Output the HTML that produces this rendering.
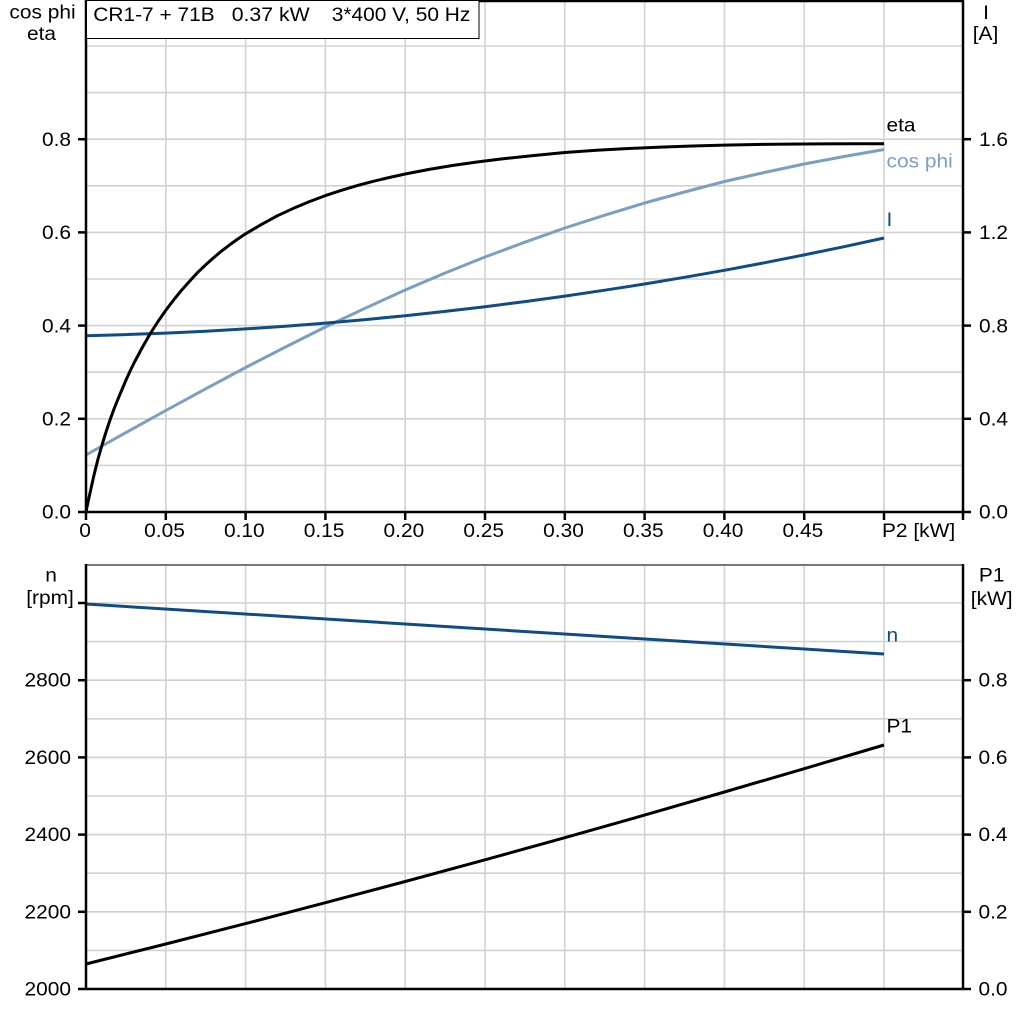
<!DOCTYPE html>
<html>
<head>
<meta charset="utf-8">
<style>
  html,body{margin:0;padding:0;background:#fff;}
  svg{display:block;}
  text{font-family:"Liberation Sans",Arial,sans-serif;font-size:19px;fill:#000;}
</style>
</head>
<body>
<svg width="1024" height="1024" viewBox="0 0 1024 1024" xmlns="http://www.w3.org/2000/svg">
  <rect x="0" y="0" width="1024" height="1024" fill="#fff"/>

  <!-- ===== TOP CHART GRID ===== -->
  <g stroke="#d2d2d2" stroke-width="1.6" fill="none">
    <line x1="165.8" y1="0" x2="165.8" y2="512"/>
    <line x1="245.6" y1="0" x2="245.6" y2="512"/>
    <line x1="325.4" y1="0" x2="325.4" y2="512"/>
    <line x1="405.2" y1="0" x2="405.2" y2="512"/>
    <line x1="485" y1="0" x2="485" y2="512"/>
    <line x1="564.8" y1="0" x2="564.8" y2="512"/>
    <line x1="644.6" y1="0" x2="644.6" y2="512"/>
    <line x1="724.4" y1="0" x2="724.4" y2="512"/>
    <line x1="804.2" y1="0" x2="804.2" y2="512"/>
    <line x1="884" y1="0" x2="884" y2="512"/>
    <line x1="86" y1="465.4" x2="963" y2="465.4"/>
    <line x1="86" y1="418.8" x2="963" y2="418.8"/>
    <line x1="86" y1="372.2" x2="963" y2="372.2"/>
    <line x1="86" y1="325.6" x2="963" y2="325.6"/>
    <line x1="86" y1="279" x2="963" y2="279"/>
    <line x1="86" y1="232.4" x2="963" y2="232.4"/>
    <line x1="86" y1="185.8" x2="963" y2="185.8"/>
    <line x1="86" y1="139.2" x2="963" y2="139.2"/>
    <line x1="86" y1="92.6" x2="963" y2="92.6"/>
    <line x1="86" y1="46" x2="963" y2="46"/>
  </g>

  <!-- ===== BOTTOM CHART GRID ===== -->
  <g stroke="#d2d2d2" stroke-width="1.6" fill="none">
    <line x1="165.8" y1="565" x2="165.8" y2="989"/>
    <line x1="245.6" y1="565" x2="245.6" y2="989"/>
    <line x1="325.4" y1="565" x2="325.4" y2="989"/>
    <line x1="405.2" y1="565" x2="405.2" y2="989"/>
    <line x1="485" y1="565" x2="485" y2="989"/>
    <line x1="564.8" y1="565" x2="564.8" y2="989"/>
    <line x1="644.6" y1="565" x2="644.6" y2="989"/>
    <line x1="724.4" y1="565" x2="724.4" y2="989"/>
    <line x1="804.2" y1="565" x2="804.2" y2="989"/>
    <line x1="884" y1="565" x2="884" y2="989"/>
    <line x1="86" y1="950.4" x2="963" y2="950.4"/>
    <line x1="86" y1="911.8" x2="963" y2="911.8"/>
    <line x1="86" y1="873.2" x2="963" y2="873.2"/>
    <line x1="86" y1="834.6" x2="963" y2="834.6"/>
    <line x1="86" y1="796" x2="963" y2="796"/>
    <line x1="86" y1="757.4" x2="963" y2="757.4"/>
    <line x1="86" y1="718.8" x2="963" y2="718.8"/>
    <line x1="86" y1="680.2" x2="963" y2="680.2"/>
    <line x1="86" y1="641.6" x2="963" y2="641.6"/>
    <line x1="86" y1="603" x2="963" y2="603"/>
  </g>

  <!-- ===== TOP CHART CURVES ===== -->
  <g fill="none" stroke-width="3" stroke-linejoin="round" stroke-linecap="butt">
    <polyline stroke="#7a9fc2" points="86,455 125.9,432.6 165.8,410.5 205.7,388.8 245.6,367.5 285.5,347 325.4,327 365.3,308.2 405.2,290 445.1,273 485,257 524.9,242.2 564.8,228 604.7,215.2 644.6,203 684.5,192 724.4,181.5 764.3,172.5 804.2,164 844.1,156.5 884,149.5"/>
    <polyline stroke="#0f4c85" points="86,335.7 125.9,334.6 165.8,333.1 205.7,331.2 245.6,328.9 285.5,326.2 325.4,323.1 365.3,319.6 405.2,315.7 445.1,311.4 485,306.7 524.9,301.6 564.8,296.1 604.7,290.2 644.6,284 684.5,277.3 724.4,270.3 764.3,262.8 804.2,254.9 844.1,246.7 884,238"/>
    <polyline stroke="#000" points="86,512 88,502 90,493 92,484 94,475 96,467 98,459 100,452 102,445 106,432 110,420 114,409 118,399 122,389.5 126,380 130,371.3 134,363 142,348 150,334 158,321.5 166,310 174,299.5 182,289.7 190,280.7 197.7,272.4 205.7,264.8 213.7,257.6 221.6,251 229.6,244.9 237.6,239.1 245.6,233.8 261.5,224.4 277.5,215.7 293.5,208.3 309.4,201.6 325.4,195.6 341.4,190.3 357.3,185.6 373.3,181.3 389.3,177.5 405.2,174 429.2,169.4 453.1,165.4 477.1,162 501,159 532.9,155.6 564.8,152.5 596.7,150.3 628.6,148.5 660.6,147.1 692.5,146 724.4,145.1 756.3,144.5 788.2,144.1 820.2,143.9 852.1,143.8 884,143.8"/>
  </g>

  <!-- ===== BOTTOM CHART CURVES ===== -->
  <g fill="none" stroke-width="3" stroke-linejoin="round">
    <polyline stroke="#0f4c85" points="86,604 884,654"/>
    <polyline stroke="#000" points="86,964 165.8,944 245.6,923.6 325.4,902.7 405.2,881.5 485,859.8 564.8,837.7 644.6,815.1 724.4,792 804.2,768.7 884,745"/>
  </g>

  <!-- ===== AXES TOP ===== -->
  <g stroke="#000" stroke-width="2.5" fill="none">
    <line x1="86" y1="0" x2="86" y2="520"/>
    <line x1="963" y1="0" x2="963" y2="520"/>
    <line x1="86" y1="1" x2="963" y2="1"/>
    <line x1="78" y1="512" x2="971" y2="512"/>
    <line x1="78" y1="418.8" x2="86" y2="418.8"/>
    <line x1="78" y1="325.6" x2="86" y2="325.6"/>
    <line x1="78" y1="232.4" x2="86" y2="232.4"/>
    <line x1="78" y1="139.2" x2="86" y2="139.2"/>
    <line x1="963" y1="418.8" x2="971" y2="418.8"/>
    <line x1="963" y1="325.6" x2="971" y2="325.6"/>
    <line x1="963" y1="232.4" x2="971" y2="232.4"/>
    <line x1="963" y1="139.2" x2="971" y2="139.2"/>
    <line x1="165.8" y1="512" x2="165.8" y2="520"/>
    <line x1="245.6" y1="512" x2="245.6" y2="520"/>
    <line x1="325.4" y1="512" x2="325.4" y2="520"/>
    <line x1="405.2" y1="512" x2="405.2" y2="520"/>
    <line x1="485" y1="512" x2="485" y2="520"/>
    <line x1="564.8" y1="512" x2="564.8" y2="520"/>
    <line x1="644.6" y1="512" x2="644.6" y2="520"/>
    <line x1="724.4" y1="512" x2="724.4" y2="520"/>
    <line x1="804.2" y1="512" x2="804.2" y2="520"/>
    <line x1="884" y1="512" x2="884" y2="520"/>
  </g>

  <!-- ===== AXES BOTTOM ===== -->
  <line x1="86" y1="565" x2="963" y2="565" stroke="#7a7a7a" stroke-width="2"/>
  <g stroke="#000" stroke-width="2.5" fill="none">
    <line x1="86" y1="564" x2="86" y2="990"/>
    <line x1="963" y1="564" x2="963" y2="990"/>
    <line x1="78" y1="989" x2="971" y2="989"/>
    <line x1="78" y1="911.8" x2="86" y2="911.8"/>
    <line x1="78" y1="834.6" x2="86" y2="834.6"/>
    <line x1="78" y1="757.4" x2="86" y2="757.4"/>
    <line x1="78" y1="680.2" x2="86" y2="680.2"/>
    <line x1="78" y1="603" x2="86" y2="603"/>
    <line x1="963" y1="911.8" x2="971" y2="911.8"/>
    <line x1="963" y1="834.6" x2="971" y2="834.6"/>
    <line x1="963" y1="757.4" x2="971" y2="757.4"/>
    <line x1="963" y1="680.2" x2="971" y2="680.2"/>
  </g>

  <!-- ===== TITLE BOX ===== -->
  <rect x="86.5" y="0.5" width="392.5" height="38" fill="#fff" stroke="#000" stroke-width="1"/>
  <text transform="translate(93.3 21) scale(1.1 1)">CR1-7 + 71B</text>
  <text transform="translate(231.7 21) scale(1.12 1)">0.37 kW</text>
  <text transform="translate(331.7 21) scale(1.1 1)">3*400 V, 50 Hz</text>

  <!-- ===== TOP AXIS TITLES ===== -->
  <text transform="translate(42.5 18.5) scale(1.1 1)" text-anchor="middle">cos phi</text>
  <text transform="translate(41.5 40) scale(1.1 1)" text-anchor="middle">eta</text>
  <text transform="translate(986 19) scale(1.1 1)" text-anchor="middle">I</text>
  <text transform="translate(985.5 40) scale(1.1 1)" text-anchor="middle">[A]</text>

  <g text-anchor="end">
    <text transform="translate(71 518.5) scale(1.1 1)">0.0</text>
    <text transform="translate(71 425.5) scale(1.1 1)">0.2</text>
    <text transform="translate(71 332.3) scale(1.1 1)">0.4</text>
    <text transform="translate(71 239.1) scale(1.1 1)">0.6</text>
    <text transform="translate(71 145.9) scale(1.1 1)">0.8</text>
  </g>
  <g>
    <text transform="translate(979 518.5) scale(1.1 1)">0.0</text>
    <text transform="translate(979 425.5) scale(1.1 1)">0.4</text>
    <text transform="translate(979 332.3) scale(1.1 1)">0.8</text>
    <text transform="translate(979 239.1) scale(1.1 1)">1.2</text>
    <text transform="translate(979 145.9) scale(1.1 1)">1.6</text>
  </g>
  <g text-anchor="middle">
    <text transform="translate(85 537) scale(1.1 1)">0</text>
    <text transform="translate(164.5 537) scale(1.1 1)">0.05</text>
    <text transform="translate(244.3 537) scale(1.1 1)">0.10</text>
    <text transform="translate(324.1 537) scale(1.1 1)">0.15</text>
    <text transform="translate(403.9 537) scale(1.1 1)">0.20</text>
    <text transform="translate(483.7 537) scale(1.1 1)">0.25</text>
    <text transform="translate(563.5 537) scale(1.1 1)">0.30</text>
    <text transform="translate(643.3 537) scale(1.1 1)">0.35</text>
    <text transform="translate(723.1 537) scale(1.1 1)">0.40</text>
    <text transform="translate(802.9 537) scale(1.1 1)">0.45</text>
  </g>
  <text transform="translate(882 537) scale(1.1 1)">P2 [kW]</text>

  <text transform="translate(886.5 131.5) scale(1.1 1)">eta</text>
  <text transform="translate(886.5 167.5) scale(1.1 1)" style="fill:#7a9fc2">cos phi</text>
  <text transform="translate(886.5 226) scale(1.1 1)" style="fill:#0f4c85">I</text>

  <!-- ===== BOTTOM AXIS TITLES ===== -->
  <text transform="translate(51 581.7) scale(1.1 1)" text-anchor="middle">n</text>
  <text transform="translate(50 604) scale(1.1 1)" text-anchor="middle">[rpm]</text>
  <text transform="translate(991.7 581.7) scale(1.1 1)" text-anchor="middle">P1</text>
  <text transform="translate(991.7 605) scale(1.1 1)" text-anchor="middle">[kW]</text>

  <g text-anchor="end">
    <text transform="translate(71 995.5) scale(1.1 1)">2000</text>
    <text transform="translate(71 918.3) scale(1.1 1)">2200</text>
    <text transform="translate(71 841.1) scale(1.1 1)">2400</text>
    <text transform="translate(71 763.9) scale(1.1 1)">2600</text>
    <text transform="translate(71 686.7) scale(1.1 1)">2800</text>
  </g>
  <g>
    <text transform="translate(978.5 995.5) scale(1.1 1)">0.0</text>
    <text transform="translate(978.5 918.3) scale(1.1 1)">0.2</text>
    <text transform="translate(978.5 841.1) scale(1.1 1)">0.4</text>
    <text transform="translate(978.5 763.9) scale(1.1 1)">0.6</text>
    <text transform="translate(978.5 686.7) scale(1.1 1)">0.8</text>
  </g>

  <text transform="translate(886.5 641.7) scale(1.1 1)" style="fill:#0f4c85">n</text>
  <text transform="translate(886.5 732.7) scale(1.1 1)">P1</text>
</svg>
</body>
</html>
